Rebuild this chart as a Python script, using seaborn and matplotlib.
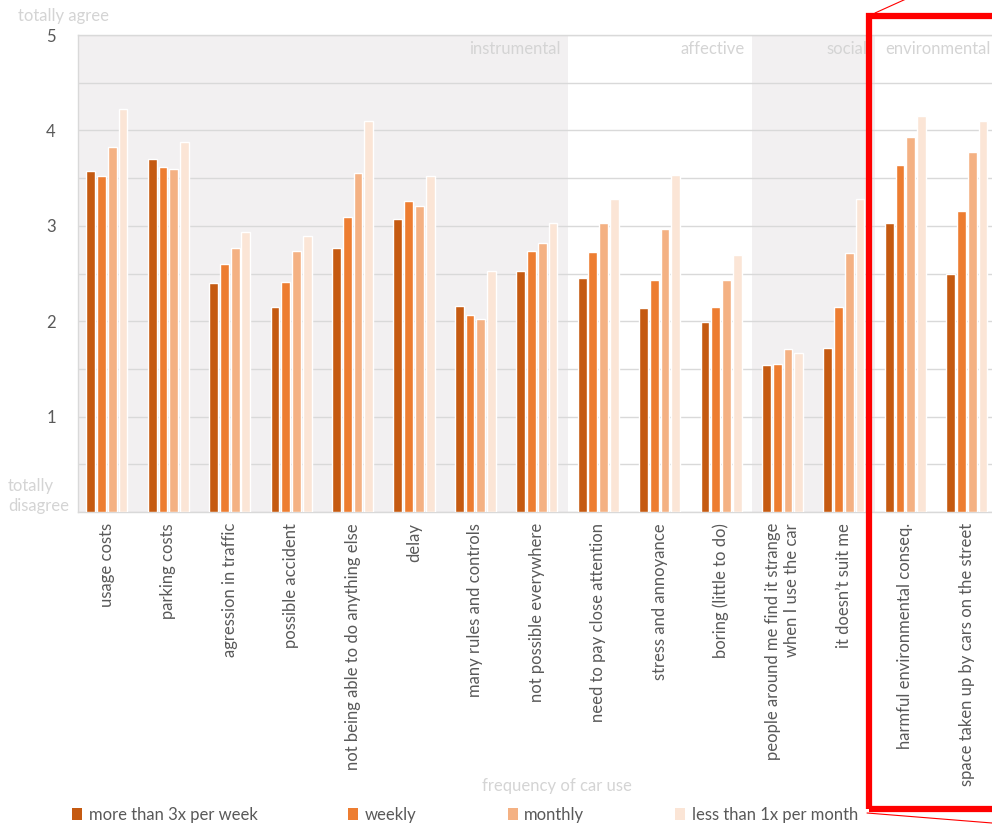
import pandas as pd
import matplotlib.pyplot as plt
import seaborn as sns
from matplotlib.patches import Rectangle, Patch
from matplotlib.lines import Line2D

# Items (x categories)
items = [
    "usage costs", "parking costs", "agression in traffic", "possible accident",
    "not being able to do anything else", "delay", "many rules and controls",
    "not possible everywhere", "need to pay close attention", "stress and annoyance",
    "boring (little to do)", "people around me find it strange\nwhen I use the car",
    "it doesn’t suit me", "harmful environmental conseq.",
    "space taken up by cars on the street",
]

# Mean agreement per frequency of car use
more_than_3x = [3.57, 3.70, 2.40, 2.15, 2.77, 3.07, 2.16, 2.53, 2.45, 2.14, 1.99, 1.54, 1.72, 3.03, 2.50]
weekly = [3.52, 3.62, 2.60, 2.41, 3.09, 3.26, 2.06, 2.74, 2.73, 2.43, 2.15, 1.55, 2.15, 3.64, 3.16]
monthly = [3.83, 3.60, 2.77, 2.74, 3.55, 3.21, 2.02, 2.82, 3.03, 2.97, 2.43, 1.71, 2.71, 3.93, 3.77]
less_than_1x = [4.22, 3.88, 2.93, 2.89, 4.10, 3.52, 2.53, 3.03, 3.28, 3.53, 2.69, 1.67, 3.28, 4.15, 4.10]

frequency_labels = ["more than 3x per week", "weekly", "monthly", "less than 1x per month"]
colors = ["#C55A11", "#ED7D31", "#F4B183", "#FBE5D6"]

band_names = ["instrumental", "affective", "social", "environmental"]
band_edges = [-0.5, 7.5, 10.5, 12.5, 14.5]
band_shaded = [True, False, True, False]

# Long table for seaborn
series = [more_than_3x, weekly, monthly, less_than_1x]
rows = []
for label, values in zip(frequency_labels, series):
    for item, v in zip(items, values):
        rows.append({"item": item, "score": v, "frequency": label})
df = pd.DataFrame(rows)

sns.set_theme(style="white")
plt.rcParams['font.family'] = ['Lato', 'DejaVu Sans']

text_col = "#595959"
faint_col = "#D4D4D4"
grid_col = "#D9D9D9"
fs = 12

W, H = 992, 827
fig = plt.figure(figsize=(W / 100, H / 100), dpi=100)
ax = fig.add_axes([78 / W, 1 - 512 / H, 1 - 78 / W, (512 - 35) / H])

# Background bands
for i, name in enumerate(band_names):
    if band_shaded[i]:
        ax.axvspan(band_edges[i], band_edges[i + 1], color="#F2F0F1", zorder=0, lw=0)
    ax.text(band_edges[i + 1] - 0.12, 4.94, name, ha="right", va="top",
            fontsize=fs, color=faint_col, zorder=1)

sns.barplot(data=df, x="item", y="score", hue="frequency", palette=colors,
            hue_order=frequency_labels, order=items, width=0.7, gap=0.18,
            saturation=1, legend=False, ax=ax, zorder=3)

ax.set_xlim(-0.47, 14.41)
ax.set_ylim(0, 5)
yt = [i * 0.5 for i in range(11)]
ax.set_yticks(yt)
ax.set_yticklabels([str(int(v)) if v == int(v) and v > 0 else "" for v in yt],
                   fontsize=fs, color=text_col)
ax.yaxis.grid(True, color=grid_col, lw=1, zorder=1)
ax.set_axisbelow(True)
ax.tick_params(axis="both", length=0, pad=16)
ax.tick_params(axis="x", pad=8)
ax.set_xticks(range(len(items)))
ax.set_xticklabels(items, rotation=90, fontsize=fs, color=text_col,
                   va="top", ha="center", multialignment="right")
ax.set_xlabel("")
ax.set_ylabel("")
for side in ["left", "bottom", "top"]:
    ax.spines[side].set_color(grid_col)
    ax.spines[side].set_linewidth(1)
ax.spines["right"].set_visible(False)

# Scale end labels
fig.text(18 / W, 1 - 16 / H, "totally agree", fontsize=fs, color=faint_col, va="center", ha="left")
fig.text(8 / W, 1 - 496 / H, "totally\ndisagree", fontsize=fs, color=faint_col,
         va="center", ha="left", linespacing=1.35)
fig.text(557 / W, 1 - 786 / H, "frequency of car use", fontsize=fs, color=faint_col,
         va="center", ha="center")

# Legend
handles = [Patch(facecolor=c, edgecolor="none") for c in colors]
fig.legend(handles, frequency_labels, loc="center left", bbox_to_anchor=(57 / W, 1 - 815 / H),
           ncol=4, frameon=False, fontsize=fs, handlelength=0.6, handleheight=0.7,
           handletextpad=0.4, columnspacing=5.45, labelcolor=text_col)

# Red highlight callout
fig.patches.append(Rectangle((869 / W, 1 - 809 / H), 0.2, (809 - 16) / H, transform=fig.transFigure,
                             fill=False, edgecolor="#FF0000", lw=4.5, zorder=10))
fig.lines.append(Line2D([875 / W, 906 / W], [1 - 13 / H, 1 + 1 / H], transform=fig.transFigure,
                        color="#FF0000", lw=0.8, zorder=10))
fig.lines.append(Line2D([867 / W, 1.0], [1 - 813 / H, 1 - 823 / H], transform=fig.transFigure,
                        color="#FF0000", lw=0.8, zorder=10))

fig.savefig("out.png", dpi=100)
